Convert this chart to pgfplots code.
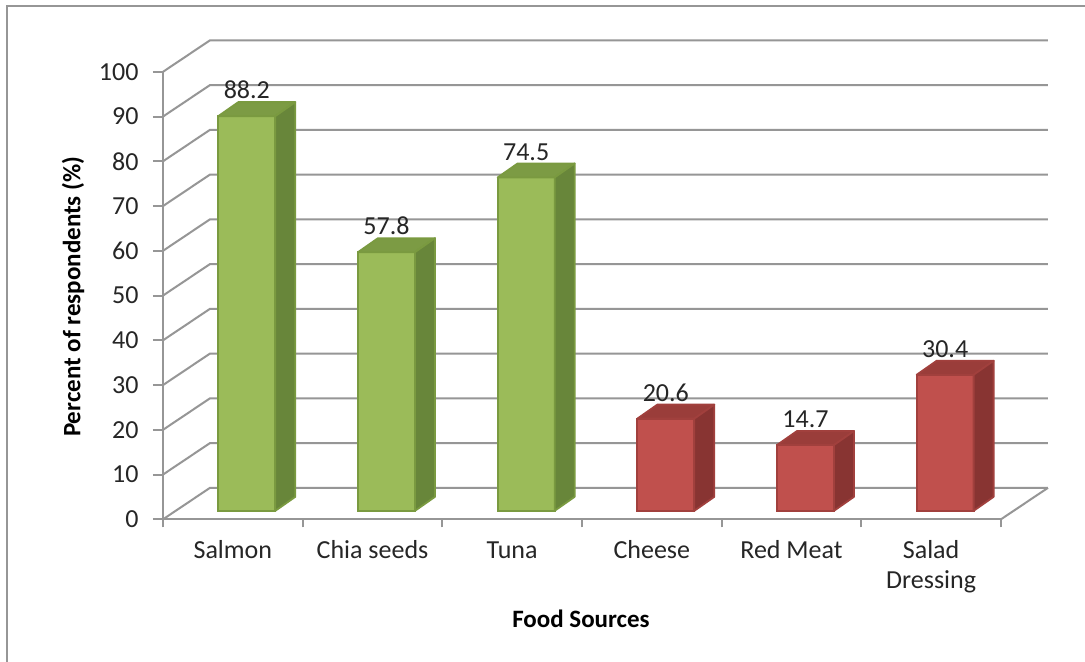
\documentclass[border=0pt]{standalone}
\usepackage{pgfplots}
\usepackage{pgfplotstable}
\pgfplotsset{compat=1.18}
\usepackage{fontspec}
\setmainfont{Carlito}

\definecolor{gridgray}{HTML}{969696}
\definecolor{gfront}{HTML}{9BBB59}
\definecolor{gtop}{HTML}{7C9B44}
\definecolor{gside}{HTML}{68863A}
\definecolor{gline}{HTML}{7A9A40}
\definecolor{rfront}{HTML}{C0504D}
\definecolor{rtop}{HTML}{9A3D3A}
\definecolor{rside}{HTML}{883432}
\definecolor{rline}{HTML}{A1403D}

% omega-3 rich foods (green) and other foods (red)
\pgfplotstableread{
pos value
0 88.2
1 57.8
2 74.5
}\greensources
\pgfplotstableread{
pos value
3 20.6
4 14.7
5 30.4
}\redsources

% top and side faces of a bar; the mark sits at the data point,
% the front face is offset by (7pt,4.25pt) like the ybar plot
\newcommand\cuboidfaces[3]{%
  \pgfmathsetmacro\barh{2.2375*\barval}%
  \filldraw[fill=#1,draw=#3,line width=0.9pt,line join=round]
    (-7.25pt,4.25pt) -- (21.25pt,4.25pt) -- (31.25pt,11.25pt) -- (2.75pt,11.25pt) -- cycle;
  \filldraw[fill=#2,draw=#3,line width=0.9pt,line join=round]
    (21.25pt,4.25pt) -- (31.25pt,11.25pt) -- (31.25pt,11.25pt-\barh pt) -- (21.25pt,4.25pt-\barh pt) -- cycle;
}
\pgfdeclareplotmark{cuboid green}{\cuboidfaces{gtop}{gside}{gline}}
\pgfdeclareplotmark{cuboid red}{\cuboidfaces{rtop}{rside}{rline}}

\begin{document}
\begin{tikzpicture}
\fill[white] (-81.5pt,-70.85pt) rectangle (461pt,259.65pt);
\useasboundingbox (-81.5pt,-70.85pt) rectangle (461pt,259.65pt);
\draw[gridgray,line width=1pt] (-78pt,-80pt) -- (-78pt,256.65pt) -- (470pt,256.65pt);
\begin{axis}[
  at={(0,0)}, anchor=south west,
  x=69.83pt, y=2.2375pt,
  xmin=-0.5, xmax=5.5, ymin=0, ymax=100,
  clip=false,
  axis x line*=bottom, axis y line*=left,
  axis line style={gridgray,line width=1pt,-},
  tick align=outside,
  tick style={gridgray,line width=1pt},
  major tick length=5pt,
  minor tick length=4pt,
  ytick={0,10,...,100},
  xtick={0,...,5},
  xticklabels={Salmon,Chia seeds,Tuna,Cheese,Red Meat,{\begin{tabular}[t]{@{}c@{}}Salad\\Dressing\end{tabular}}},
  minor xtick={-0.5,0.5,...,5.5},
  major x tick style={draw=none},
  /pgf/number format/assume math mode=true,
  tick label style={font=\fontsize{13}{15}\selectfont,text=black!85},
  xticklabel style={anchor=base,yshift=-14.35pt},
  yticklabel style={anchor=east,xshift=-3.7pt},
  xlabel={Food Sources},
  ylabel={Percent of respondents (\%)},
  every axis x label/.style={at={(axis description cs:0.4988,-0.241)},anchor=base,font=\bfseries\fontsize{12.5}{15}\selectfont},
  every axis y label/.style={at={(axis description cs:-0.1074,0.4973)},rotate=90,anchor=center,font=\bfseries\fontsize{12.5}{15}\selectfont},
]
% back wall and side wall grid
\pgfplotsinvokeforeach{0,10,...,100}{
  \draw[gridgray,line width=1pt] (axis cs:-0.5,#1) -- ++(23.5pt,15.75pt)
    -- ([shift={(23.5pt,15.75pt)}]axis cs:5.5,#1);
}
\draw[gridgray,line width=1pt] (axis cs:5.5,0) -- ++(23.5pt,15.75pt);

% front faces
\addplot[ybar,bar width=28.5pt,bar shift=7pt,yshift=4.25pt,
  fill=gfront,draw=gline,line width=0.9pt] table[x=pos,y=value] {\greensources};
\addplot[ybar,bar width=28.5pt,bar shift=7pt,yshift=4.25pt,
  fill=rfront,draw=rline,line width=0.9pt] table[x=pos,y=value] {\redsources};

% top and side faces with the value labels
\pgfplotsset{cubestyle/.style={only marks,
  visualization depends on={rawy\as\barval},
  nodes near coords,
  every node near coord/.append style={inner sep=0pt,xshift=7pt,yshift=12.6pt,
    font=\fontsize{13}{15}\selectfont,text=black!85}}}
\addplot[cubestyle,mark=cuboid green] table[x=pos,y=value] {\greensources};
\addplot[cubestyle,mark=cuboid red] table[x=pos,y=value] {\redsources};
\end{axis}
\end{tikzpicture}
\end{document}
